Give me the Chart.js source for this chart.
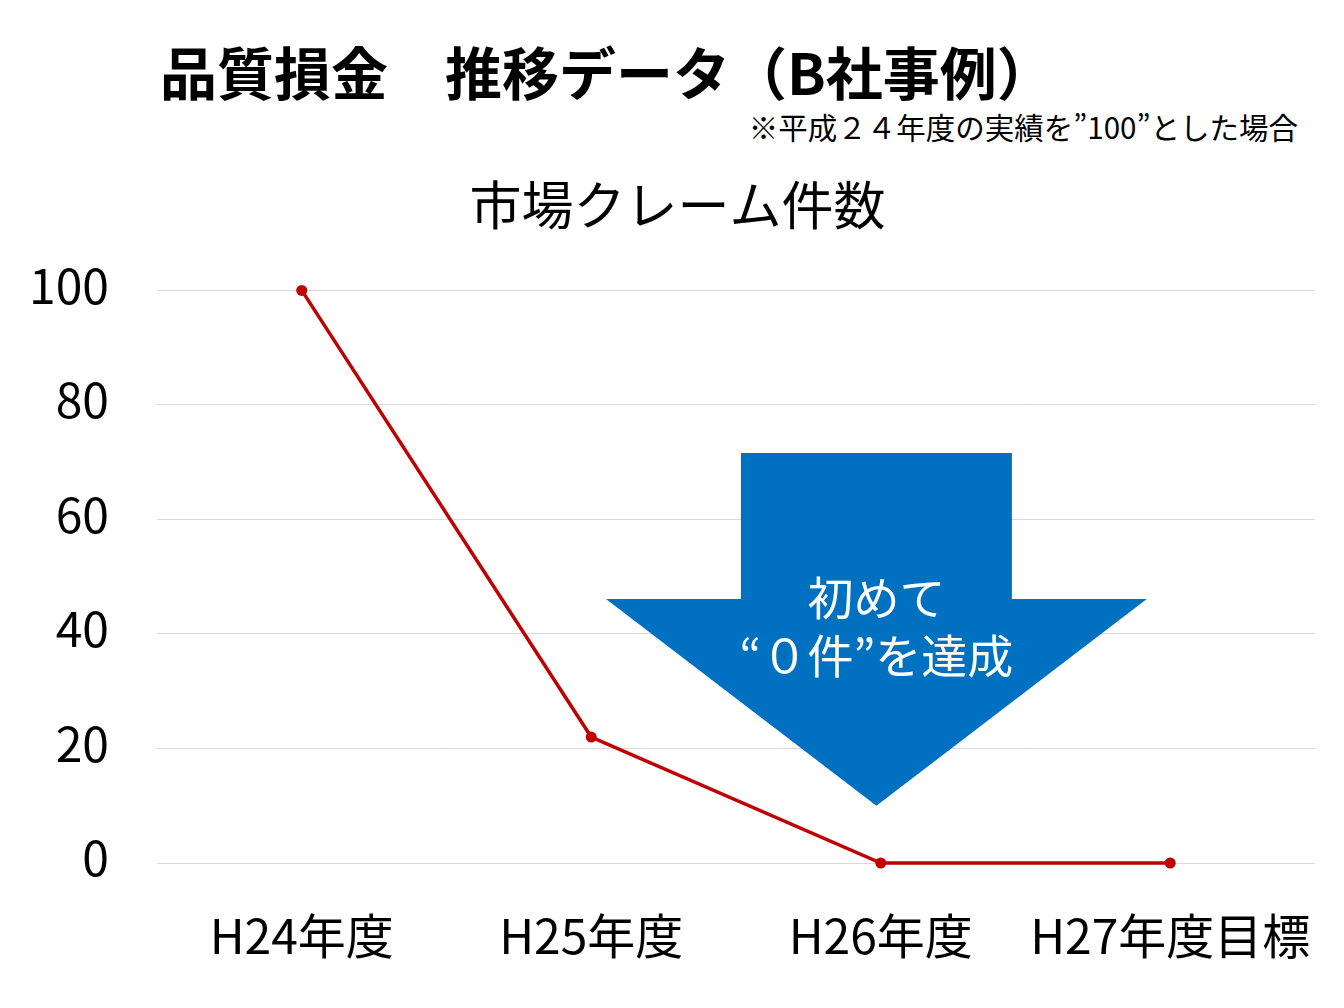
<!DOCTYPE html>
<html lang="ja">
<head>
<meta charset="utf-8">
<script src="https://cdn.jsdelivr.net/npm/chart.js@4/dist/chart.umd.min.js"></script>
<style>
  html, body { margin: 0; padding: 0; background: #fff; }
  body { width: 1344px; height: 1008px; position: relative; overflow: hidden;
         font-family: "Noto Sans CJK JP", "Noto Sans", sans-serif; }
  #heading { position: absolute; left: 160px; top: 42px; font-size: 57px; font-weight: bold;
             line-height: 1; color: #000; white-space: pre; }
  #note { position: absolute; right: 46px; top: 112px; font-size: 29.5px; line-height: 1; color: #000; }
  #chart { position: absolute; left: 0; top: 0; }
</style>
</head>
<body>
<div id="heading">品質損金　推移データ（B社事例）</div>
<div id="note">※平成２４年度の実績を”100”とした場合</div>
<canvas id="chart" width="1344" height="1008"></canvas>
<script>
// データ
const categories = ['H24年度', 'H25年度', 'H26年度', 'H27年度目標'];
const claimValues = [100, 22, 0, 0];
const yTicks = [0, 20, 40, 60, 80, 100];
const chartTitle = '市場クレーム件数';
const arrowLines = ['初めて', '“０件”を達成'];

const FONT = '"Noto Sans CJK JP", "Noto Sans", sans-serif';

// 矢印（カテゴリ番号と値で位置を指定）
const arrowShape = {
  center: 1.985,     // x (category index)
  shaftHalf: 0.468,
  headHalf: 0.934,
  top: 71.6,         // y values
  shoulder: 46.1,
  tip: 10
};

const arrowPlugin = {
  id: 'bigArrow',
  afterLayout(chart) {
    // グラフタイトルを少し右へ（元図に合わせる）
    if (chart.titleBlock) chart.titleBlock.left = 40;
  },
  beforeDatasetsDraw(chart) {
    const { ctx, scales: { x, y } } = chart;
    const a = arrowShape;
    const px = v => x.getPixelForValue(v);
    const py = v => y.getPixelForValue(v);
    ctx.save();
    ctx.fillStyle = '#0070C0';
    ctx.beginPath();
    ctx.moveTo(px(a.center - a.shaftHalf), py(a.top));
    ctx.lineTo(px(a.center + a.shaftHalf), py(a.top));
    ctx.lineTo(px(a.center + a.shaftHalf), py(a.shoulder));
    ctx.lineTo(px(a.center + a.headHalf), py(a.shoulder));
    ctx.lineTo(px(a.center), py(a.tip));
    ctx.lineTo(px(a.center - a.headHalf), py(a.shoulder));
    ctx.lineTo(px(a.center - a.shaftHalf), py(a.shoulder));
    ctx.closePath();
    ctx.fill();

    ctx.fillStyle = '#ffffff';
    ctx.font = '46px ' + FONT;
    ctx.textAlign = 'center';
    ctx.textBaseline = 'middle';
    const cx = px(a.center);
    const midY = py(a.shoulder);
    ctx.fillText(arrowLines[0], cx, midY - 2);
    ctx.fillText(arrowLines[1], cx, midY + 56);
    ctx.restore();
  }
};

new Chart(document.getElementById('chart'), {
  type: 'line',
  data: {
    labels: categories,
    datasets: [{
      data: claimValues,
      borderColor: '#C00000',
      backgroundColor: '#C00000',
      borderWidth: 3.5,
      pointRadius: 5.5,
      pointBackgroundColor: '#C00000',
      pointBorderColor: '#C00000',
      pointBorderWidth: 0,
      tension: 0,
      clip: false
    }]
  },
  options: {
    responsive: false,
    animation: false,
    devicePixelRatio: 1,
    layout: { padding: { left: 0, right: 29, top: 0, bottom: 0 } },
    plugins: {
      legend: { display: false },
      tooltip: { enabled: false },
      title: {
        display: true,
        text: chartTitle,
        color: '#000',
        font: { family: FONT, size: 52, weight: 'normal', lineHeight: 1.2 },
        padding: { top: 174, bottom: 54 }
      }
    },
    scales: {
      x: {
        offset: true,
        grid: { display: false },
        border: { display: false },
        ticks: {
          color: '#000',
          padding: 36,
          maxRotation: 0,
          autoSkip: false,
          font: { family: FONT, size: 48 }
        },
        afterFit(scale) {
          scale.height = 145;
          scale.paddingLeft = 0;
          scale.paddingRight = 0;
        }
      },
      y: {
        min: 0,
        max: 100,
        afterBuildTicks(scale) { scale.ticks = yTicks.map(v => ({ value: v })); },
        grid: { color: '#d9d9d9', lineWidth: 1, drawTicks: false },
        border: { display: false },
        ticks: {
          color: '#000',
          padding: 48,
          labelOffset: -5,
          font: { family: FONT, size: 48 }
        },
        afterFit(scale) {
          scale.width = 157;
          scale.paddingTop = 0;
          scale.paddingBottom = 0;
        }
      }
    }
  },
  plugins: [arrowPlugin]
});
</script>
</body>
</html>
